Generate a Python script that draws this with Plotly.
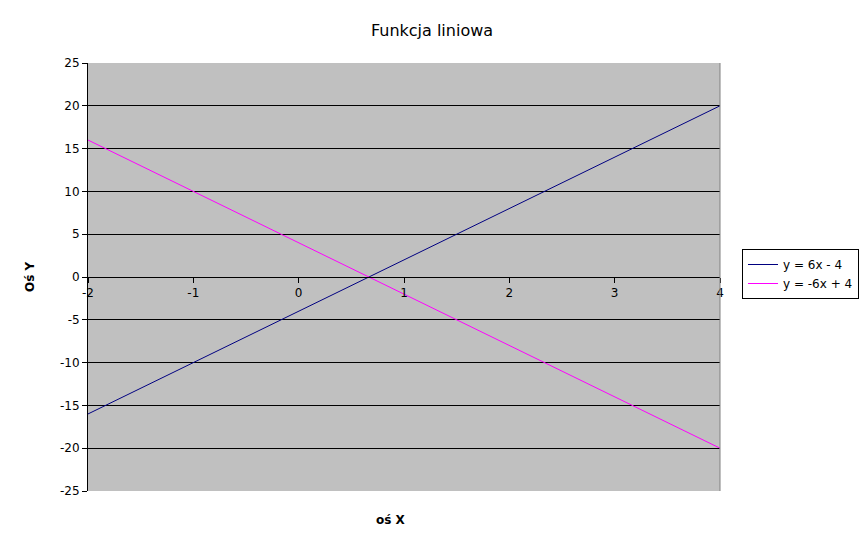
import plotly.graph_objects as go

x_vals = [-2, -1, 0, 1, 2, 3, 4]
y_line1 = [-16, -10, -4, 2, 8, 14, 20]
y_line2 = [16, 10, 4, -2, -8, -14, -20]
series_names = ["y = 6x - 4", "y = -6x + 4"]
x_ticks = [-2, -1, 0, 1, 2, 3, 4]
x_tick_labels = ["-2", "-1", "0", "1", "2", "3", "4"]
y_ticks = [-25, -20, -15, -10, -5, 0, 5, 10, 15, 20, 25]
y_tick_labels = ["-25", "-20", "-15", "-10", "-5", "0", "5", "10", "15", "20", "25"]

FONT = "DejaVu Sans"

# page has an 8px body offset; plot area in reference spans x 88-720, y 63-491
L, T, PW, PH = 80, 55, 632, 428
W, H = 867, 548

fig = go.Figure()
fig.add_trace(go.Scatter(x=x_vals, y=y_line1, mode="lines", name=series_names[0],
                         line=dict(color="#000080", width=1)))
fig.add_trace(go.Scatter(x=x_vals, y=y_line2, mode="lines", name=series_names[1],
                         line=dict(color="#FF00FF", width=1)))

fig.update_layout(
    width=W, height=H,
    margin=dict(l=L, r=W - L - PW, t=T, b=H - T - PH),
    paper_bgcolor="white",
    plot_bgcolor="#C0C0C0",
    font=dict(family=FONT, size=12, color="black"),
    title=dict(text="Funkcja liniowa", x=(432 - 88) / PW, xref="paper", xanchor="center",
               y=1 - 22 / H, yanchor="middle", font=dict(size=16, family=FONT)),
    showlegend=True,
    legend=dict(x=(742 - 88) / PW, y=(491 - 274) / PH, xanchor="left", yanchor="middle",
                bordercolor="black", borderwidth=1, bgcolor="white",
                font=dict(size=12, family=FONT), tracegroupgap=0),
    xaxis=dict(range=[-2, 4], tickvals=x_ticks, ticktext=x_tick_labels,
               showgrid=False, zeroline=False,
               anchor="free", position=0.5, showline=True, linecolor="black", linewidth=1,
               ticks="outside", ticklen=5, tickcolor="black",
               tickfont=dict(size=12, family=FONT)),
    yaxis=dict(range=[-25, 25], tickvals=y_ticks, ticktext=y_tick_labels,
               showgrid=True, gridcolor="black", gridwidth=1,
               zeroline=False, showline=True, linecolor="black", linewidth=1,
               ticks="outside", ticklen=5, tickcolor="black",
               tickfont=dict(size=12, family=FONT)),
    annotations=[
        dict(text="<b>oś X</b>", x=(391 - 88) / PW, y=(491 - 520) / PH, xref="paper", yref="paper",
             showarrow=False, font=dict(size=12, family=FONT), xanchor="center", yanchor="middle"),
        dict(text="<b>Oś Y</b>", x=(30 - 88) / PW, y=(491 - 277) / PH, xref="paper", yref="paper",
             showarrow=False, textangle=-90, font=dict(size=12, family=FONT),
             xanchor="center", yanchor="middle"),
    ],
    shapes=[
        dict(type="line", xref="paper", yref="paper", x0=1, x1=1, y0=0, y1=1,
             line=dict(color="#808080", width=1)),
    ],
)

fig.write_html("out.html")
